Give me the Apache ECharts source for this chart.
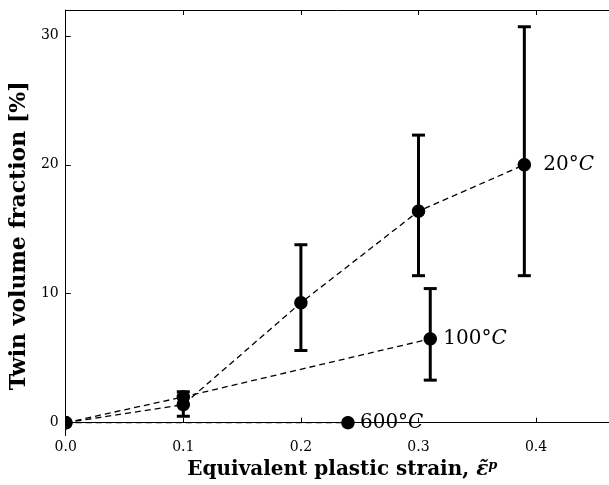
<!DOCTYPE html>
<html>
<head>
<meta charset="utf-8">
<script src="https://cdn.jsdelivr.net/npm/echarts@6/dist/echarts.min.js"></script>
<style>html,body{margin:0;padding:0;background:#fff;}#c{width:609px;height:485px;}</style>
</head>
<body>
<div id="c"></div>
<script>
// ---- data ----
const strain20 = [0, 0.1, 0.2, 0.3, 0.39];
const frac20 = [0, 1.4, 9.3, 16.4, 20.0];
const err20Low = [null, 0.5, 5.6, 11.4, 11.4];
const err20High = [null, 2.4, 13.8, 22.3, 30.7];

const strain100 = [0, 0.1, 0.31];
const frac100 = [0, 2.0, 6.5];
const err100Low = [null, null, 3.3];
const err100High = [null, null, 10.4];

const strain600 = [0, 0.24];
const frac600 = [0, 0];
const err600Low = [null, null];
const err600High = [null, null];

const tempNames = ['20°', '100°', '600°'];
const xTicks = [0, 0.1, 0.2, 0.3, 0.4];
const yTicks = [0, 10, 20, 30];

// ---- build ----
const FONT = 'DejaVu Serif';
function pairs(xs, ys) { return xs.map((x, i) => [x, ys[i]]); }
function quads(xs, ys, lo, hi) { return xs.map((x, i) => [x, ys[i], lo[i] == null ? '-' : lo[i], hi[i] == null ? '-' : hi[i]]); }

const groups = [
  { name: tempNames[0], xs: strain20, ys: frac20, lo: err20Low, hi: err20High, dist: 19 },
  { name: tempNames[1], xs: strain100, ys: frac100, lo: err100Low, hi: err100High, dist: 13 },
  { name: tempNames[2], xs: strain600, ys: frac600, lo: err600Low, hi: err600High, dist: 12 }
];

// circle as polygon, clamped to the plot rectangle (clips the marker at the axis)
function clippedCircle(cx, cy, r, cs) {
  const pts = [];
  const n = 64;
  for (let i = 0; i < n; i++) {
    const a = 2 * Math.PI * i / n;
    let px = cx + r * Math.cos(a), py = cy + r * Math.sin(a);
    px = Math.min(Math.max(px, cs.x), cs.x + cs.width);
    py = Math.min(Math.max(py, cs.y), cs.y + cs.height);
    pts.push([px, py]);
  }
  return pts;
}

function renderItem(params, api) {
  const x = api.value(0), y = api.value(1), lo = api.value(2), hi = api.value(3);
  const p = api.coord([x, y]);
  const cs = params.coordSys;
  const children = [];
  const st = { stroke: '#000', lineWidth: 3 };
  if (typeof lo === 'number' && typeof hi === 'number' && !isNaN(lo) && !isNaN(hi)) {
    const pl = api.coord([x, lo]), ph = api.coord([x, hi]);
    children.push({ type: 'line', shape: { x1: p[0], y1: pl[1], x2: p[0], y2: ph[1] }, style: st });
    children.push({ type: 'line', shape: { x1: p[0] - 6.5, y1: pl[1], x2: p[0] + 6.5, y2: pl[1] }, style: st });
    children.push({ type: 'line', shape: { x1: p[0] - 6.5, y1: ph[1], x2: p[0] + 6.5, y2: ph[1] }, style: st });
  }
  children.push({
    type: 'polygon', shape: { points: clippedCircle(p[0], p[1], 6.7, cs) }, style: { fill: '#000' }
  });
  return { type: 'group', children: children };
}

const series = [];
groups.forEach(g => {
  series.push({
    type: 'line',
    data: pairs(g.xs, g.ys),
    symbol: 'none',
    lineStyle: { color: '#000', width: 1.3, type: [6, 4] },
    z: 2,
    animation: false,
    endLabel: {
      show: true,
      distance: g.dist,
      formatter: () => '{a|' + g.name + '}{b|C}',
      rich: {
        a: { fontFamily: FONT, fontSize: 20, color: '#000' },
        b: { fontFamily: FONT, fontSize: 20, fontStyle: 'italic', color: '#000' }
      }
    }
  });
  series.push({
    type: 'custom',
    data: quads(g.xs, g.ys, g.lo, g.hi),
    renderItem: renderItem,
    clip: false,
    z: 5,
    animation: false
  });
});

const axisCommon = {
  type: 'value',
  axisLine: { show: true, lineStyle: { color: '#000', width: 1 } },
  splitLine: { show: false }
};

const option = {
  animation: false,
  backgroundColor: '#fff',
  grid: { left: 64, top: 10, right: 0, bottom: 46, containLabel: false },
  xAxis: [
    Object.assign({}, axisCommon, {
      min: 0, max: 0.462,
      position: 'bottom',
      axisTick: { show: true, inside: true, length: 5, customValues: xTicks, lineStyle: { color: '#000' } },
      axisLabel: { customValues: xTicks, formatter: v => v.toFixed(1), fontFamily: FONT, fontSize: 14, color: '#000', margin: 5 },
      name: 'Equivalent plastic strain, {e|\u03b5\u0303}{p|p}',
      nameLocation: 'middle',
      nameGap: 23,
      nameTextStyle: {
        fontFamily: FONT, fontSize: 20, fontWeight: 'bold', color: '#000',
        padding: [0, 0, 0, 10],
        rich: {
          e: { fontFamily: FONT, fontSize: 20, fontStyle: 'italic', color: '#000' },
          p: { fontFamily: FONT, fontSize: 13, fontStyle: 'italic', color: '#000', verticalAlign: 'top', padding: [0, 0, 8, 0] }
        }
      }
    }),
    Object.assign({}, axisCommon, {
      min: 0, max: 0.462,
      position: 'top',
      axisTick: { show: true, inside: true, length: 5, customValues: xTicks, lineStyle: { color: '#000' } },
      axisLabel: { show: false }
    })
  ],
  yAxis: [
    Object.assign({}, axisCommon, {
      min: -1, max: 32,
      position: 'left',
      axisTick: { show: true, inside: true, length: 5, customValues: yTicks, lineStyle: { color: '#000' } },
      axisLabel: { customValues: yTicks, fontFamily: FONT, fontSize: 14, color: '#000', margin: 7 },
      name: 'Twin volume fraction [%]',
      nameLocation: 'middle',
      nameGap: 29,
      nameTextStyle: { fontFamily: FONT, fontSize: 22, fontWeight: 'bold', color: '#000', padding: [0, 26, 0, 0] }
    })
  ],
  series: series
};

const chart = echarts.init(document.getElementById('c'), null, { renderer: 'canvas' });
chart.setOption(option);
</script>
</body>
</html>
